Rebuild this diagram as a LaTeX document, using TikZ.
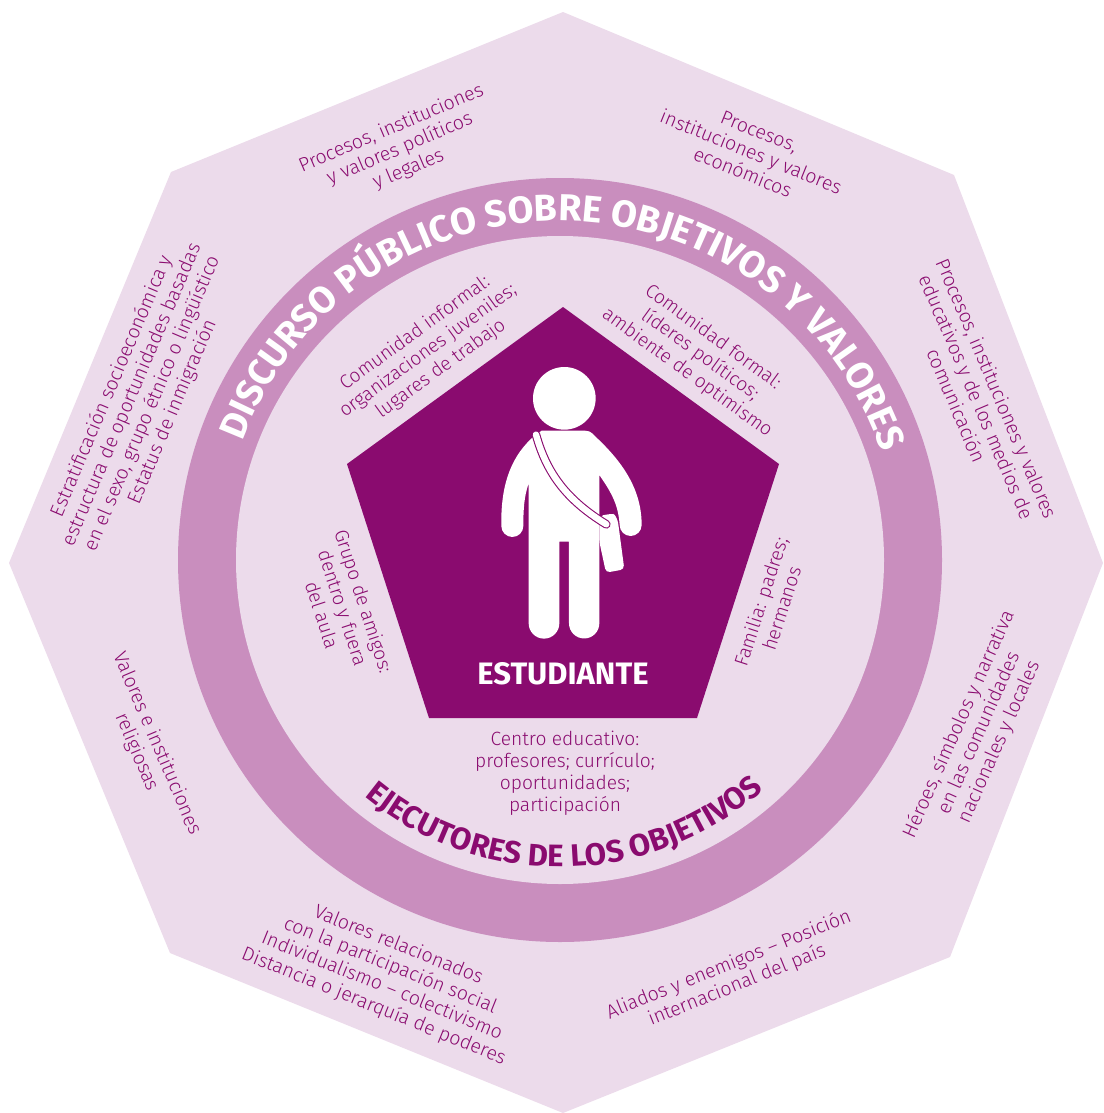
\documentclass[tikz,border=0pt]{standalone}
\usepackage{fontspec}
\setmainfont{Fira Sans Light}[BoldFont=Fira Sans Bold]
\usepackage{tikz}
\usetikzlibrary{decorations.text}
\definecolor{plum}{HTML}{8A0B6F}
\definecolor{ringplum}{HTML}{C98EBE}
\definecolor{paleplum}{HTML}{ECDBEB}
\tikzset{area label/.style={text=plum, align=center, font=\fontsize{19.5}{22}\selectfont}}
\tikzset{agent label/.style={text=plum, align=center, font=\fontsize{19.2}{22}\selectfont}}

\begin{document}
\begin{tikzpicture}[x=1pt, y=1pt]
    \useasboundingbox (0,0) rectangle (1103,-1113);
    \coordinate (c) at (560,-560);

    \fill[paleplum] (563,-12) -- (954,-175) -- (1103,-563) -- (950,-957)
      -- (563,-1113) -- (170,-953) -- (9,-563) -- (171,-172) -- cycle;
    \fill[ringplum] (c) circle[radius=382];
    \fill[paleplum] (c) circle[radius=324];
    \fill[plum] (563,-307) -- (779,-464) -- (697,-718) -- (429,-718) -- (347,-464) -- cycle;

    % curved titles
    \path[decorate, decoration={text along path, text align=center,
      text={|\fontsize{37.5}{37.5}\selectfont\bfseries\color{white}|DISCURSO PÚBLICO SOBRE OBJETIVOS Y VALORES}}]
      (c) ++(169:339) arc[start angle=169, end angle=9, radius=339];
    \path[decorate, decoration={text along path, text align=center,
      text={|\fontsize{31}{31}\selectfont\bfseries\color{plum}|EJECUTORES DE LOS OBJETIVOS}}]
      (c) ++(221:307) arc[start angle=221, end angle=321, radius=307];

    % outer areas
    \node[area label, rotate=23] (politics) at (400,-149) {Procesos, instituciones\\y valores políticos\\y legales};
    \node[area label, rotate=-22] (economy) at (751,-152) {Procesos,\\instituciones y valores\\económicos};
    \node[area label, rotate=-67] (education) at (977,-397) {Procesos, instituciones y valores\\educativos y de los medios de\\comunicación};
    \node[area label, rotate=66] (heroes) at (979,-733) {Héroes, símbolos y narrativa\\en las comunidades\\nacionales y locales};
    \node[area label, rotate=22] (allies) at (733,-975) {Aliados y enemigos – Posición\\internacional del país};
    \node[area label, rotate=-22] (social) at (386,-976) {Valores relacionados\\con la participación social\\Individualismo – colectivismo\\Distancia o jerarquía de poderes};
    \node[area label, rotate=-67] (religion) at (147,-748) {Valores e instituciones\\religiosas};
    \node[area label, rotate=67] (strata) at (142,-399) {Estratificación socioeconómica y\\estructura de oportunidades basadas\\en el sexo, grupo étnico o lingüístico\\Estatus de inmigración};

    % inner agents
    \node[agent label, rotate=36] (informal) at (428,-351) {Comunidad informal:\\organizaciones juveniles;\\lugares de trabajo};
    \node[agent label, rotate=-36] (formal) at (700,-355) {Comunidad formal:\\líderes políticos;\\ambiente de optimismo};
    \node[agent label, rotate=-72] (friends) at (343,-608) {Grupo de amigos:\\dentro y fuera\\del aula};
    \node[agent label, rotate=72] (family) at (771,-605) {Familia: padres;\\hermanos};
    \node[agent label] (school) at (565,-773) {Centro educativo:\\profesores; currículo;\\oportunidades;\\participación};
    \node[text=white, font=\fontsize{31}{31}\selectfont\bfseries] (student) at (563,-674) {ESTUDIANTE};

    % student figure
    \begin{scope}[shift={(450,-340)}, x=0.3333pt, y=0.3333pt]
      \fill[white] (343,-175) circle[radius=94];
      \fill[white] (275,-272) -- (405,-272) .. controls (425,-272) and (430,-285) .. (445,-298)
        .. controls (520,-370) and (575,-450) .. (575,-555) arc[start angle=0, end angle=-180, radius=33]
        .. controls (505,-500) and (490,-465) .. (448,-405) -- (448,-850)
        arc[start angle=0, end angle=-180, radius=45.5] -- (357,-605) -- (328,-605) -- (328,-850)
        arc[start angle=0, end angle=-180, radius=46] -- (236,-430)
        .. controls (222,-470) and (220,-510) .. (220,-558) arc[start angle=0, end angle=-180, radius=33]
        .. controls (152,-450) and (175,-360) .. (245,-295) -- cycle;
      \fill[white, rounded corners=4pt] (448,-528) -- (478,-522) .. controls (495,-522) and (503,-540) .. (506,-560)
        -- (523,-688) -- (468,-698) -- (448,-605) -- cycle;
      \draw[plum, line width=8.6pt, line cap=round] (258,-284) .. controls (290,-400) and (350,-480) .. (469,-553);
      \draw[white, line width=6.4pt, line cap=round] (258,-284) .. controls (290,-400) and (350,-480) .. (469,-553);
    \end{scope}
\end{tikzpicture}
\end{document}
